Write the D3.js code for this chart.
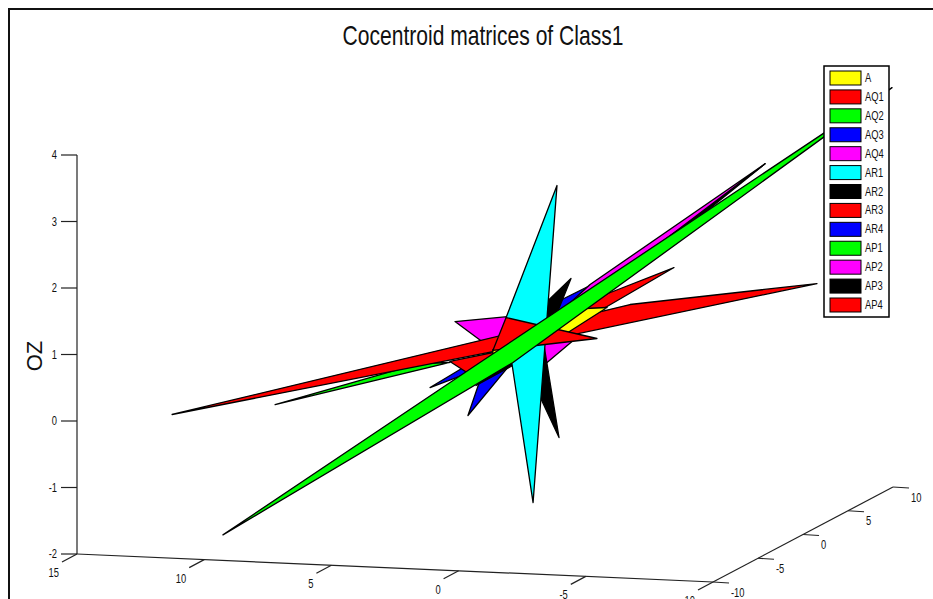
<!DOCTYPE html>
<html>
<head>
<meta charset="utf-8">
<script src="https://cdn.jsdelivr.net/npm/d3@7"></script>
<style>
html, body { margin: 0; padding: 0; background: #fff; }
text { font-family: "Liberation Sans", sans-serif; fill: #111; }
</style>
</head>
<body>
<div id="chart"></div>
<script>
// tick labels
var xTicks = [15, 10, 5, 0, -5, -10];
var yTicks = [-10, -5, 0, 5, 10];
var zTicks = [-2, -1, 0, 1, 2, 3, 4];

// legend order
var names = ['A', 'AQ1', 'AQ2', 'AQ3', 'AQ4', 'AR1', 'AR2', 'AR3', 'AR4', 'AP1', 'AP2', 'AP3', 'AP4'];
var colors = ['#ffff00', '#ff0000', '#00ff00', '#0000ff', '#ff00ff', '#00ffff', '#000000', '#ff0000', '#0000ff', '#00ff00', '#ff00ff', '#000000', '#ff0000'];

// depth can't be read from one view so y is 0 except at the far tips
var A = [[-2.30, 0, 1.284], [-1.43, 0, 1.254], [2.19, 0, 0.577], [2.19, 0, 0.486], [-0.76, 0, 0.882]];
var AQ1 = [[1.67, 0, 1.066], [-1.90, 0, 0.811], [2.19, 0, 0.562]];
var AQ2 = [[10.75, 0, -0.395], [5.06, 0, 0.318], [3.88, 0, 0.353]];
var AQ3 = [[4.66, 0, -0.037], [1.91, 0, 0.641], [2.70, 0, 0.282]];
var AQ4 = [[3.68, 0, 0.972], [1.12, 0, 1.106], [-0.92, 0, 0.749], [0.06, 0, 0.417], [2.30, 0, 0.605]];
var AR1 = [[-0.33, 0, 3.085], [0.10, 0, 0.897], [0.61, 0, -1.698], [1.52, 0, 0.573], [1.67, 0, 1.066]];
var AR2 = [[-0.88, 0, 1.696], [0.18, 0, 0.671], [-0.41, 0, -0.703], [0.73, 0, 0.21], [0.10, 0, 1.318]];
var AR3 = [[-4.93, 0, 1.929], [-2.33, 0, 1.495], [2.19, 0, 0.531], [3.88, 0, 0.368], [3.21, 0, 0.214], [-2.30, 0, 1.299]];
var AR4 = [[3.17, 0, -0.432], [2.70, 0, 0.102], [0.34, 0, 1.194], [-2.18, 0, 1.718], [1.12, 0, 0.549]];
var AP1 = [[9.97, -8, -1.77], [2.70, 0, 0.372], [-10.67, 8, 4.16], [1.40, 0, 0.394]];
var AP2 = [[-6.74, 5, 3.163], [-1.63, 0, 1.618], [0.34, 0, 0.893], [-3.59, 0, 2.042]];
var AP3 = [[-6.74, 5, 3.163], [2.85, 0, 0.024], [1.12, 0, 0.414]];
var AP4 = [[14.80, 0, -0.613], [-3.20, 0, 1.344], [-10.55, 0, 1.783], [2.19, 0, 0.546]];

// back to front
var drawOrder = [
	['AQ4', AQ4], ['AQ3', AQ3], ['AR4', AR4], ['AP3', AP3], ['AP2', AP2], ['AQ2', AQ2],
	['AR2', AR2], ['AR1', AR1], ['AP4', AP4], ['AR3', AR3], ['A', A], ['AQ1', AQ1], ['AP1', AP1]
];

var width = 933, height = 599;
var origin = {x: 77, y: 554};	// x=15, y=-10, z=-2 corner
var squeeze = 0.78;	// the reference's text is squashed sideways

// fixed oblique view: each data axis moves a point along both screen directions
var xAcross = d3.scaleLinear().domain([15, -10]).range([0, 636]),
    xDown = d3.scaleLinear().domain([15, -10]).range([0, 28]),
    yAcross = d3.scaleLinear().domain([-10, 10]).range([0, 180]),
    yUp = d3.scaleLinear().domain([-10, 10]).range([0, 95]),
    zUp = d3.scaleLinear().domain([-2, 4]).range([0, 399]);

var color = d3.scaleOrdinal().domain(names).range(colors);

function px (p) {
	return origin.x + xAcross(p[0]) + yAcross(p[1]);
}

function py (p) {
	return origin.y + xDown(p[0]) - yUp(p[1]) - zUp(p[2]);
}

var svg = d3.select('#chart').append('svg')
	.attr('width', width)
	.attr('height', height)
	.style('display', 'block');

function label (parent, x, y, s, anchor, size) {
	return parent.append('text')
		.attr('transform', 'translate(' + x + ',' + y + ') scale(' + squeeze + ',1)')
		.attr('text-anchor', anchor)
		.style('font-size', size + 'px')
		.text(s);
}

// outer frame, bottom runs off the page
svg.append('path')
	.attr('d', 'M9,' + height + 'V9H' + (width + 2))
	.attr('fill', 'none')
	.attr('stroke', '#111')
	.attr('stroke-width', 2);

label(svg, 483, 45, 'Cocentroid matrices of Class1', 'middle', 27);

svg.append('text')
	.attr('transform', 'translate(42,356) rotate(-90)')
	.attr('text-anchor', 'middle')
	.style('font-size', '22px')
	.text('OZ');

var axes = svg.append('g')
	.attr('fill', 'none')
	.attr('stroke', '#222')
	.attr('stroke-width', 1.2);

function axisLine (a, b) {
	axes.append('line')
		.attr('x1', px(a)).attr('y1', py(a))
		.attr('x2', px(b)).attr('y2', py(b));
}

axisLine([15, -10, -2], [15, -10, 4]);
axisLine([15, -10, -2], [-10, -10, -2]);
axisLine([-10, -10, -2], [-10, 10, -2]);

zTicks.forEach(function (d) {
	var p = [15, -10, d];
	axes.append('line')
		.attr('x1', px(p) - 16).attr('y1', py(p))
		.attr('x2', px(p)).attr('y2', py(p));
	label(svg, px(p) - 20, py(p) + 4, d, 'end', 12);
});

xTicks.forEach(function (d) {
	var p = [d, -10, -2];
	axes.append('line')
		.attr('x1', px(p)).attr('y1', py(p))
		.attr('x2', px(p) - 15).attr('y2', py(p) + 8);
	label(svg, px(p) - 18, py(p) + 23, d, 'end', 12);
});

yTicks.forEach(function (d) {
	var p = [-10, d, -2];
	axes.append('line')
		.attr('x1', px(p)).attr('y1', py(p))
		.attr('x2', px(p) + 16).attr('y2', py(p) + 1);
	label(svg, px(p) + 18, py(p) + 14.5, d, 'start', 12);
});

svg.append('g')
	.selectAll('path')
	.data(drawOrder)
	.enter()
	.append('path')
	.attr('class', function (d) { return 'poly ' + d[0]; })
	.attr('d', function (d) {
		return d3.line().x(px).y(py).curve(d3.curveLinearClosed)(d[1]);
	})
	.attr('fill', function (d) { return color(d[0]); })
	.attr('stroke', '#000')
	.attr('stroke-width', 1.3)
	.attr('stroke-linejoin', 'round');

// legend
var rowY = d3.scalePoint().domain(names).range([78, 305]);

var legend = svg.append('g');

legend.append('rect')
	.attr('x', 824)
	.attr('y', 66)
	.attr('width', 65)
	.attr('height', 251)
	.attr('fill', '#fff')
	.attr('stroke', '#000')
	.attr('stroke-width', 1.5);

var rows = legend.selectAll('g')
	.data(names)
	.enter()
	.append('g')
	.attr('transform', function (d) { return 'translate(0,' + rowY(d) + ')'; });

rows.append('rect')
	.attr('x', 830)
	.attr('y', -7)
	.attr('width', 31)
	.attr('height', 14)
	.attr('fill', function (d) { return color(d); })
	.attr('stroke', '#000')
	.attr('stroke-width', 1);

rows.each(function (d) {
	label(d3.select(this), 865, 4, d, 'start', 12);
});
</script>
</body>
</html>
